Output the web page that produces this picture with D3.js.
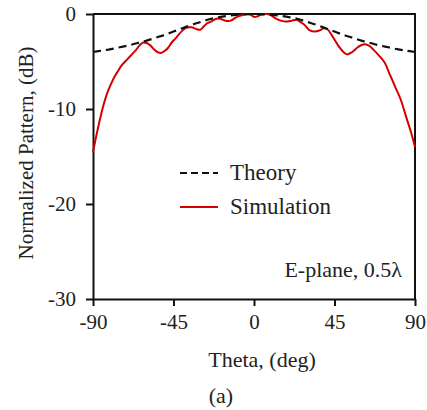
<!DOCTYPE html>
<head>
  <meta charset="utf-8">
  <script src="https://d3js.org/d3.v7.min.js"></script>
  <style>
    body { margin:0; background:#fff; }
    text { font-family: "Liberation Serif", "Times New Roman", serif; fill:#222; }
  </style>
</head>
<body>
<script>

// theta in degrees, pattern in dB
var theoryTheta = [-90,-85,-80,-75,-70,-65,-60,-55,-50,-45,-40,-35,-30,-25,-20,-15,-10,-5,0,5,10,15,20,25,30,35,40,45,50,55,60,65,70,75,80,85,90];
var theoryDb    = [-4.0,-3.85,-3.7,-3.5,-3.3,-3.05,-2.8,-2.5,-2.2,-1.85,-1.5,-1.15,-0.85,-0.55,-0.35,-0.2,-0.1,-0.03,0,-0.03,-0.1,-0.2,-0.35,-0.55,-0.85,-1.15,-1.5,-1.85,-2.2,-2.5,-2.8,-3.05,-3.3,-3.5,-3.7,-3.85,-4.0];

var simTheta = [-90,-88,-86,-84,-82,-80,-78,-76,-74,-72,-70,-68,-66,-64,-62,-60,-58,-56,-54,-52,-50,-48,-46,-44,-42,-40,-38,-35,-32,-30,-28,-26,-24,-21,-19,-16,-13,-10,-7,-4,-2,0,2,4,7,9,12,15,18,21,24,26,28,31,34,37,39,41,44,47,50,52,55,58,61,64,67,70,73,76,79,82,85,88,90];
var simDb    = [-14.5,-12.7,-11.0,-9.5,-8.3,-7.4,-6.6,-6.0,-5.4,-5.0,-4.6,-4.2,-3.8,-3.3,-3.0,-3.05,-3.3,-3.7,-4.0,-4.1,-3.9,-3.55,-3.0,-2.6,-2.15,-1.75,-1.45,-1.4,-1.6,-1.65,-1.3,-0.95,-0.8,-0.5,-0.5,-0.7,-0.7,-0.35,-0.15,0,-0.05,-0.3,-0.25,-0.05,0,-0.1,-0.45,-0.7,-0.8,-0.7,-0.6,-0.85,-1.1,-1.7,-1.85,-1.7,-1.5,-1.6,-2.4,-3.3,-4.0,-4.25,-4.0,-3.5,-3.2,-3.3,-3.8,-4.4,-5.1,-6.4,-7.7,-9.0,-10.8,-12.6,-14.0];

var xTicks = [-90,-45,0,45,90];
var yTicks = [0,-10,-20,-30];

var width = 427, height = 410;
var mLeft = 93, mRight = 415, mTop = 14, mBottom = 299;

var svg = d3.select("body").append("svg")
  .attr("width", width)
  .attr("height", height);

var x = d3.scaleLinear().domain([-90, 90]).range([mLeft, mRight]);
var y = d3.scaleLinear().domain([-30, 0]).range([mBottom, mTop]);

var fmt = function(d) { return String(d); };   // plain hyphen minus like the original

// frame (top and right)
svg.append("path")
  .attr("d", "M" + mLeft + "," + mTop + "H" + mRight + "V" + mBottom)
  .attr("fill", "none")
  .attr("stroke", "#111")
  .attr("stroke-width", 2);

var xAxis = svg.append("g")
  .attr("transform", "translate(0," + mBottom + ")")
  .call(d3.axisBottom(x).tickValues(xTicks).tickFormat(fmt).tickSize(7).tickPadding(8).tickSizeOuter(0));

var yAxis = svg.append("g")
  .attr("transform", "translate(" + mLeft + ",0)")
  .call(d3.axisLeft(y).tickValues(yTicks).tickFormat(fmt).tickSize(7).tickPadding(10).tickSizeOuter(0));

[xAxis, yAxis].forEach(function(a) {
  a.select(".domain").attr("stroke", "#111").attr("stroke-width", 2);
  a.selectAll(".tick line").attr("stroke", "#111").attr("stroke-width", 2);
  a.selectAll("text")
    .attr("font-family", "Liberation Serif")
    .attr("font-size", 21)
    .attr("fill", "#222");
});

var theory = theoryTheta.map(function(t, i) { return [t, theoryDb[i]]; });
var sim = simTheta.map(function(t, i) { return [t, simDb[i]]; });

var line = d3.line()
  .x(function(d) { return x(d[0]); })
  .y(function(d) { return y(d[1]); })
  .curve(d3.curveCatmullRom);

svg.append("path")
  .datum(sim)
  .attr("d", line)
  .attr("fill", "none")
  .attr("stroke", "#d40000")
  .attr("stroke-width", 2);

svg.append("path")
  .datum(theory)
  .attr("d", line)
  .attr("fill", "none")
  .attr("stroke", "#111")
  .attr("stroke-width", 2.2)
  .attr("stroke-dasharray", "8,5");

// legend
var legend = [
  {name: "Theory", color: "#111", dash: "7,4", y: 173},
  {name: "Simulation", color: "#d40000", dash: null, y: 207}
];
legend.forEach(function(d) {
  svg.append("line")
    .attr("x1", 180).attr("x2", 218)
    .attr("y1", d.y).attr("y2", d.y)
    .attr("stroke", d.color)
    .attr("stroke-width", 2)
    .attr("stroke-dasharray", d.dash);
  svg.append("text")
    .attr("x", 230).attr("y", d.y + 7)
    .attr("font-size", 23)
    .text(d.name);
});

svg.append("text")
  .attr("x", 402).attr("y", 277)
  .attr("text-anchor", "end")
  .attr("font-size", 22)
  .text("E-plane, 0.5\u03bb");

svg.append("text")
  .attr("x", 262).attr("y", 367)
  .attr("text-anchor", "middle")
  .attr("font-size", 22)
  .text("Theta, (deg)");

svg.append("text")
  .attr("transform", "translate(33,153) rotate(-90)")
  .attr("text-anchor", "middle")
  .attr("font-size", 21)
  .text("Normalized Pattern, (dB)");

svg.append("text")
  .attr("x", 221).attr("y", 403)
  .attr("text-anchor", "middle")
  .attr("font-size", 22)
  .text("(a)");

</script>
</body>
